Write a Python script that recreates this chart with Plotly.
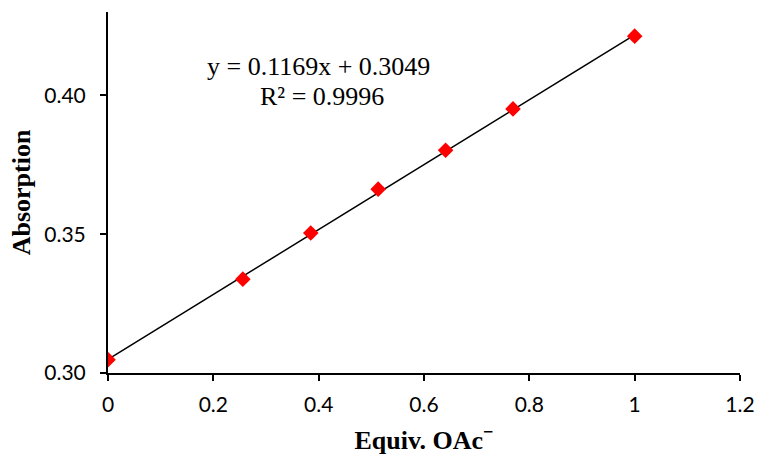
import plotly.graph_objects as go

# Titration data: equivalents of acetate vs. absorbance
equiv = [0.0, 0.256, 0.385, 0.513, 0.641, 0.769, 1.0]
absorption = [0.3048, 0.3338, 0.3504, 0.3662, 0.3802, 0.3951, 0.4213]

# Linear trendline (as reported)
slope = 0.1169
intercept = 0.3049
r_squared = 0.9996
fit_x = [0.0, 1.0]
fit_y = [slope * x + intercept for x in fit_x]

x_ticks = [0, 0.2, 0.4, 0.6, 0.8, 1, 1.2]
y_ticks = [0.30, 0.35, 0.40]

fig = go.Figure()
fig.add_trace(go.Scatter(
    x=fit_x, y=fit_y, mode="lines",
    line=dict(color="black", width=1.5),
    showlegend=False, hoverinfo="skip",
))
fig.add_trace(go.Scatter(
    x=equiv, y=absorption, mode="markers",
    marker=dict(symbol="diamond", size=12, color="#ff0000", line=dict(width=0)),
    showlegend=False,
))

serif = "Liberation Serif, Times New Roman, serif"
tick_font = dict(family="Lato, sans-serif", size=21, color="black")
title_font = dict(family=serif, size=26, color="black")

fig.update_xaxes(
    range=[0, 1.2], tickvals=x_ticks, ticktext=[f"{v:g}" for v in x_ticks],
    showline=True, linecolor="black", linewidth=2,
    ticks="outside", ticklen=6, tickwidth=2, tickcolor="black",
    showgrid=False, zeroline=False, tickfont=tick_font,
    ticklabelstandoff=6, automargin=False,
    title=dict(text="<b>Equiv. OAc<sup>−</sup></b>", font=title_font, standoff=16),
)
fig.update_yaxes(
    range=[0.30, 0.43], tickvals=y_ticks, ticktext=[f"{v:.2f}" for v in y_ticks],
    showline=True, linecolor="black", linewidth=2,
    ticks="outside", ticklen=6, tickwidth=2, tickcolor="black",
    showgrid=False, zeroline=False, tickfont=tick_font,
    ticklabelstandoff=10, automargin=False,
    title=dict(text="<b>Absorption</b>", font=title_font, standoff=6),
)

eq_font = dict(family=serif, size=26, color="black")
fig.add_annotation(
    x=0.399, y=0.4102, xref="x", yref="y", xanchor="center", yanchor="middle",
    text=f"y = {slope:.4f}x + {intercept:.4f}",
    showarrow=False, font=eq_font,
)
fig.add_annotation(
    x=0.406, y=0.3997, xref="x", yref="y", xanchor="center", yanchor="middle",
    text=f"R² = {r_squared:.4f}",
    showarrow=False, font=eq_font,
)

fig.update_layout(
    width=757, height=457,
    margin=dict(l=108, r=17, t=12, b=84),
    plot_bgcolor="white", paper_bgcolor="white",
)

fig.write_html("out.html")
